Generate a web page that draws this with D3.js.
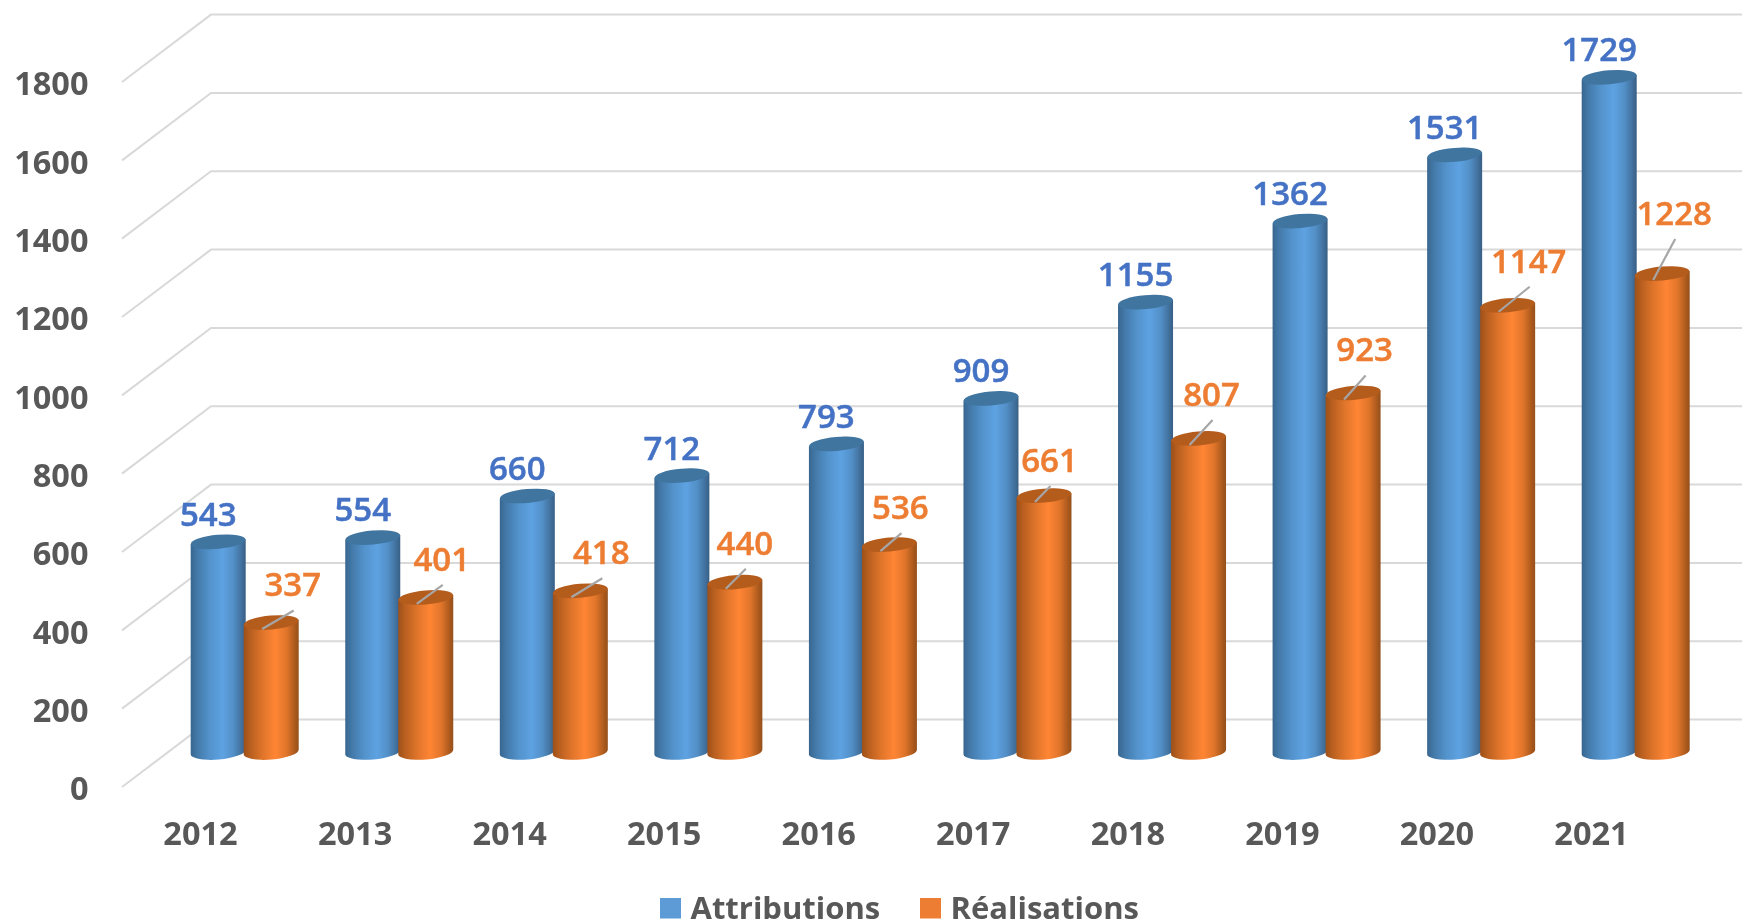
<!DOCTYPE html>
<html><head><meta charset="utf-8">
<script src="https://cdn.jsdelivr.net/npm/d3@7"></script>
<style>
html,body{margin:0;padding:0;background:#fff;overflow:hidden}
svg{display:block}
text{font-family:"Open Sans",sans-serif}
</style></head><body><svg id="c" width="1742" height="923"></svg>
<script>
const years=[2012,2013,2014,2015,2016,2017,2018,2019,2020,2021];
const attributions=[543,554,660,712,793,909,1155,1362,1531,1729];
const realisations=[337,401,418,440,536,661,807,923,1147,1228];
const valueTicks=[0,200,400,600,800,1000,1200,1400,1600,1800];
const seriesNames=["Attributions","Réalisations"];
// hand-placed label nudges (px, relative to the top of each orange bar), as in the source chart
const orangeNudgeX=[21.5,16,21,10,11,5.5,13,11.5,21,12];
const orangeNudgeY=[-35.5,-36,-36,-37,-35,-33,-42,-41,-42,-58];

const W=1742,H=923;
const svg=d3.select("#c");
const defs=svg.append("defs");
function grad(id,stops){
  const g=defs.append("linearGradient").attr("id",id).attr("x1","0").attr("x2","1").attr("y1","0").attr("y2","0");
  stops.forEach(s=>g.append("stop").attr("offset",s[0]).attr("stop-color",s[1]));
}
grad("gb",[[0,"#38668f"],[0.12,"#4379a9"],[0.35,"#5393cc"],[0.58,"#5ea2e2"],[0.78,"#528fc6"],[0.93,"#416f9b"],[1,"#375f85"]]);
grad("go",[[0,"#9c5019"],[0.12,"#b85f20"],[0.35,"#e0752b"],[0.58,"#ff8534"],[0.78,"#e0752b"],[0.93,"#ac5a1e"],[1,"#94501c"]]);
defs.append("filter").attr("id","soft").append("feGaussianBlur").attr("stdDeviation",0.6);

const y=d3.scaleLinear().domain([0,1800]).range([787,82]);
const x=d3.scalePoint().domain(years).range([200,1591]);
const depth={dx:89,dy:-67.4};
const barPlane={dx:44.7,dy:-35};
const capDrop=2.5;
const barW=55, ry=7, tilt=-5;
const root=svg.append("g").attr("filter","url(#soft)");

// grid
const grid=root.append("g").attr("fill","none").attr("stroke","#d9d9d9").attr("stroke-width",2);
grid.selectAll("path").data(valueTicks).join("path")
  .attr("d",v=>{const p=d3.path();p.moveTo(122,y(v));p.lineTo(122+depth.dx,y(v)+depth.dy);p.lineTo(W,y(v)+depth.dy);return p.toString();});

// value axis
const ay=root.append("g").attr("transform","translate(88.5,2.5)")
  .call(d3.axisLeft(y).tickValues(valueTicks).tickSize(0).tickPadding(0).tickFormat(d3.format("d")));
ay.select(".domain").remove();
ay.selectAll("text").attr("font-family","Open Sans").attr("font-size",32.5).attr("font-weight",700).attr("fill","#595959");

// category axis
const ax=root.append("g").attr("transform","translate(0,834)")
  .call(d3.axisBottom(x).tickSize(0).tickPadding(0).tickFormat(d3.format("d")));
ax.select(".domain").remove();
ax.selectAll("text").attr("dy",".35em").attr("y",0).attr("font-family","Open Sans").attr("font-size",32.5).attr("font-weight",700).attr("fill","#595959");

const yBar=v=>y(v)+barPlane.dy;
function cyl(g,cx,v,fill,cap){
  const top=yBar(v)+capDrop,base=yBar(0),r=barW/2,s=Math.sin(tilt*Math.PI/180)*r;
  g.append("path").attr("fill",fill)
   .attr("d",`M${cx-r},${top-s} L${cx+r},${top+s} L${cx+r},${base+s} A${r},${ry+0.5} ${tilt} 0 1 ${cx-r},${base-s} Z`);
  g.append("ellipse").attr("cx",cx).attr("cy",top).attr("rx",r).attr("ry",ry)
   .attr("transform",`rotate(${tilt} ${cx} ${top})`).attr("fill",cap);
}
const bars=root.append("g");
years.forEach((yr,i)=>{
  const c=x(yr)+barPlane.dx;
  cyl(bars,c-26.5,attributions[i],"url(#gb)","#41749f");
  cyl(bars,c+26.5,realisations[i],"url(#go)","#b45c1f");
});

// leaders + labels
const lab=root.append("g").attr("text-anchor","middle").attr("font-size",33).attr("font-weight",600);
years.forEach((yr,i)=>{
  const c=x(yr)+barPlane.dx;
  const bx=c-26.5,ox=c+26.5;
  lab.append("text").attr("x",bx-10).attr("y",yBar(attributions[i])-25.5).attr("dy",".36em").attr("fill","#4472c4").attr("stroke","#4472c4").attr("stroke-width",0.5).text(attributions[i]);
  const lx=ox+orangeNudgeX[i], ly=yBar(realisations[i])+orangeNudgeY[i];
  lab.append("line").attr("x1",ox-9).attr("y1",yBar(realisations[i])+9).attr("x2",lx+1).attr("y2",ly+26)
     .attr("stroke","#a6a6a6").attr("stroke-width",2.2);
  lab.append("text").attr("x",lx).attr("y",ly).attr("dy",".36em").attr("fill","#ed7d31").attr("stroke","#ed7d31").attr("stroke-width",0.5).text(realisations[i]);
});

// legend
const leg=root.append("g");
const legX=[660,920], legColor=["#5b9bd5","#ed7d31"];
seriesNames.forEach((n,i)=>{
  leg.append("rect").attr("x",legX[i]).attr("y",898).attr("width",21).attr("height",20.5).attr("fill",legColor[i]);
  leg.append("text").attr("x",legX[i]+30.5).attr("y",919).attr("font-size",31).attr("font-weight",700).attr("fill","#595959").text(n);
});
</script></body></html>
